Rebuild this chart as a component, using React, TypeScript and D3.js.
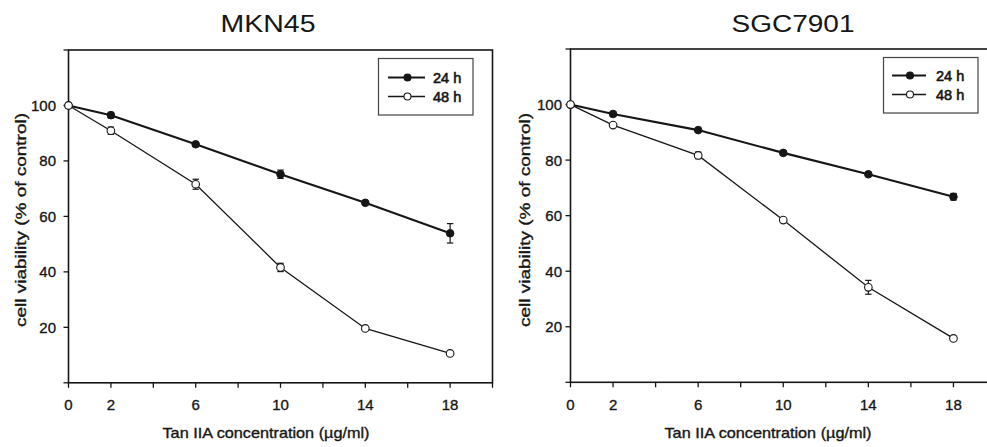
import React from "react";
import * as d3 from "d3";

const doses = [0, 2, 6, 10, 14, 18];
const xTickLabels = [0, 2, 6, 10, 14, 18];
const yTickLabels = [20, 40, 60, 80, 100];
const seriesNames = ["24 h", "48 h"];

const mkn24 = [100, 96.5, 86.0, 75.2, 64.9, 53.9];
const mkn24Err = [0, 1.0, 0.6, 1.5, 0.6, 3.5];
const mkn48 = [100, 90.9, 71.6, 41.6, 19.6, 10.6];
const mkn48Err = [0, 1.3, 1.8, 1.5, 0.5, 0.5];

const sgc24 = [100, 96.6, 90.8, 82.6, 74.9, 66.8];
const sgc24Err = [0, 0.8, 0.5, 0.8, 0.5, 1.2];
const sgc48 = [100, 92.6, 81.7, 58.4, 34.2, 15.8];
const sgc48Err = [0, 0.6, 1.2, 0.5, 2.5, 0.5];

const FONT = "'Liberation Sans', Arial, sans-serif";
const INK = "#161616";

type Panel = {
  title: string;
  titleX: number;
  titleW: number;
  left: number;
  right: number;
  top: number;
  bottom: number;
  yLabelX: number;
  yTickGap: number;
  xTitleX: number;
  legend: { x0: number; x1: number; y0: number; y1: number; lineX0: number; lineX1: number; textX: number; rowY: number[] };
  s24: number[];
  e24: number[];
  s48: number[];
  e48: number[];
};

const panels: Panel[] = [
  {
    title: "MKN45",
    titleX: 268,
    titleW: 95,
    left: 68.5,
    right: 492.5,
    top: 50,
    bottom: 382.8,
    yLabelX: 20,
    yTickGap: 12.5,
    xTitleX: 266,
    legend: { x0: 378.5, x1: 473, y0: 58.5, y1: 115, lineX0: 388, lineX1: 425, textX: 433, rowY: [77.5, 96.5] },
    s24: mkn24,
    e24: mkn24Err,
    s48: mkn48,
    e48: mkn48Err,
  },
  {
    title: "SGC7901",
    titleX: 793,
    titleW: 123,
    left: 570.5,
    right: 996,
    top: 49,
    bottom: 382.3,
    yLabelX: 524,
    yTickGap: 8.5,
    xTitleX: 768,
    legend: { x0: 883.5, x1: 978, y0: 57.5, y1: 113, lineX0: 892, lineX1: 926, textX: 936, rowY: [75.5, 94.5] },
    s24: sgc24,
    e24: sgc24Err,
    s48: sgc48,
    e48: sgc48Err,
  },
];

const heavy = { stroke: INK, strokeWidth: 0.35 } as const;

function PanelChart({ p }: { p: Panel }) {
  const x = d3.scaleLinear().domain([0, 20]).range([p.left, p.right]);
  const y = d3.scaleLinear().domain([0, 120]).range([p.bottom, p.top]);
  const line = d3
    .line<number>()
    .x((_, i) => x(doses[i]))
    .y((d) => y(d));
  const xTicks = d3.range(0, 21, 2);
  const yTicks = d3.range(0, 121, 20);
  const r = 3.8;
  const cap = 3.2;

  const errBars = (vals: number[], errs: number[], key: string) =>
    vals.map((v, i) =>
      errs[i] > 0.7 ? (
        <g key={key + i} stroke={INK} strokeWidth={1.2}>
          <line x1={x(doses[i])} x2={x(doses[i])} y1={y(v - errs[i])} y2={y(v + errs[i])} />
          <line x1={x(doses[i]) - cap} x2={x(doses[i]) + cap} y1={y(v - errs[i])} y2={y(v - errs[i])} />
          <line x1={x(doses[i]) - cap} x2={x(doses[i]) + cap} y1={y(v + errs[i])} y2={y(v + errs[i])} />
        </g>
      ) : null
    );

  const L = p.legend;
  return (
    <g>
      <text x={p.titleX} y={32} textAnchor="middle" fontFamily={FONT} fontSize={23.5} fill={INK} textLength={p.titleW} lengthAdjust="spacingAndGlyphs">
        {p.title}
      </text>
      {/* frame */}
      <rect x={p.left} y={p.top} width={p.right - p.left} height={p.bottom - p.top} fill="none" stroke={INK} strokeWidth={1.6} />
      {/* x ticks */}
      {xTicks.map((t) => (
        <line key={"xt" + t} x1={x(t)} x2={x(t)} y1={p.bottom} y2={p.bottom + 5} stroke={INK} strokeWidth={1.3} />
      ))}
      {xTickLabels.map((t) => (
        <text key={"xl" + t} x={x(t)} y={409.5} textAnchor="middle" fontFamily={FONT} fontSize={15} fill={INK} {...heavy}>
          {t}
        </text>
      ))}
      {/* y ticks */}
      {yTicks.map((t) => (
        <line key={"yt" + t} x1={p.left - 5} x2={p.left} y1={y(t)} y2={y(t)} stroke={INK} strokeWidth={1.3} />
      ))}
      {yTickLabels.map((t) => (
        <text key={"yl" + t} x={p.left - p.yTickGap} y={y(t) + 5.4} textAnchor="end" fontFamily={FONT} fontSize={15} fill={INK} {...heavy}>
          {t}
        </text>
      ))}
      <text
        x={p.xTitleX}
        y={438}
        textAnchor="middle"
        fontFamily={FONT}
        fontSize={14.5}
        fill={INK}
        textLength={207}
        lengthAdjust="spacingAndGlyphs"
        {...heavy}
      >
        Tan IIA concentration (µg/ml)
      </text>
      <text
        transform={`translate(${p.yLabelX},220) rotate(-90)`}
        textAnchor="middle"
        dominantBaseline="central"
        fontFamily={FONT}
        fontSize={15.5}
        fill={INK}
        textLength={214}
        lengthAdjust="spacingAndGlyphs"
        {...heavy}
      >
        cell viability (% of control)
      </text>
      {/* series lines */}
      <path d={line(p.s48) || ""} fill="none" stroke={INK} strokeWidth={1.3} />
      <path d={line(p.s24) || ""} fill="none" stroke={INK} strokeWidth={2.1} />
      {errBars(p.s48, p.e48, "e48")}
      {errBars(p.s24, p.e24, "e24")}
      {p.s24.map((v, i) => (
        <circle key={"c24" + i} cx={x(doses[i])} cy={y(v)} r={r} fill={INK} stroke={INK} strokeWidth={1} />
      ))}
      {p.s48.map((v, i) => (
        <circle key={"c48" + i} cx={x(doses[i])} cy={y(v)} r={r} fill="#fff" stroke={INK} strokeWidth={1.1} />
      ))}
      {/* legend */}
      <rect x={L.x0} y={L.y0} width={L.x1 - L.x0} height={L.y1 - L.y0} fill="#fff" stroke="#444" strokeWidth={1.2} />
      {seriesNames.map((name, i) => (
        <g key={name}>
          <line x1={L.lineX0} x2={L.lineX1} y1={L.rowY[i]} y2={L.rowY[i]} stroke={INK} strokeWidth={i === 0 ? 2 : 1.3} />
          <circle
            cx={(L.lineX0 + L.lineX1) / 2 + 1}
            cy={L.rowY[i]}
            r={3.5}
            fill={i === 0 ? INK : "#fff"}
            stroke={INK}
            strokeWidth={1.1}
          />
          <text x={L.textX} y={L.rowY[i] + 5} fontFamily={FONT} fontSize={14.5} fill={INK} stroke={INK} strokeWidth={0.6}>
            {name}
          </text>
        </g>
      ))}
    </g>
  );
}

export default function App() {
  return (
    <svg
      width={987}
      height={447}
      viewBox="0 0 987 447"
      style={{ position: "absolute", left: 0, top: 0, background: "#fff" }}
    >
      <rect x={0} y={0} width={987} height={447} fill="#fff" />
      {panels.map((p) => (
        <PanelChart key={p.title} p={p} />
      ))}
    </svg>
  );
}
